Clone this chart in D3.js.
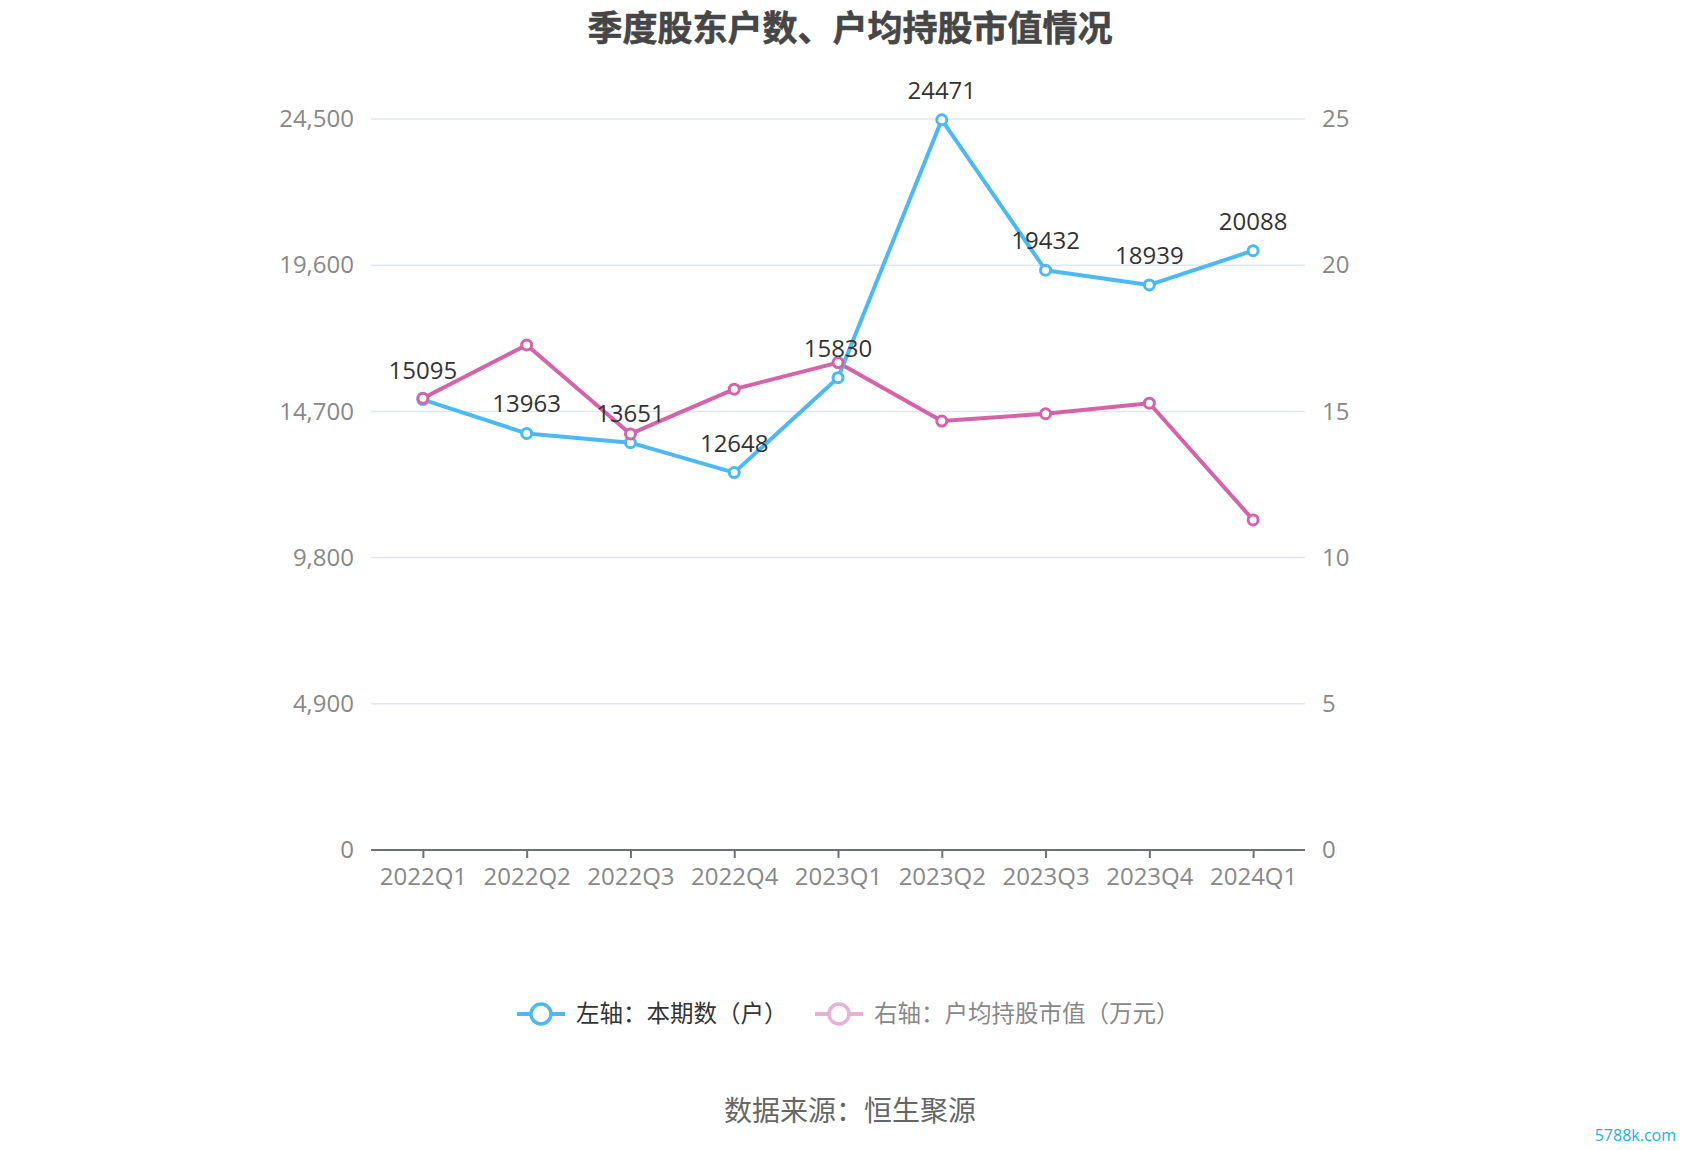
<!DOCTYPE html>
<html>
<head>
<meta charset="utf-8">
<script src="https://cdn.jsdelivr.net/npm/d3@7"></script>
<style>
  html, body { margin: 0; padding: 0; background: #fff; }
  svg { display: block; font-family: "Open Sans", "Noto Sans CJK SC", sans-serif; }
</style>
</head>
<body>
<svg id="chart" width="1700" height="1150"></svg>
<script>
const categories = ["2022Q1","2022Q2","2022Q3","2022Q4","2023Q1","2023Q2","2023Q3","2023Q4","2024Q1"];
const holders = [15095, 13963, 13651, 12648, 15830, 24471, 19432, 18939, 20088];
const avgValue = [15.45, 17.27, 14.23, 15.76, 16.67, 14.67, 14.92, 15.28, 11.29];
const leftTicks = [0, 4900, 9800, 14700, 19600, 24500];
const rightTicks = [0, 5, 10, 15, 20, 25];
const titleText = "季度股东户数、户均持股市值情况";
const legendLabels = ["左轴：本期数（户）", "右轴：户均持股市值（万元）"];
const sourceText = "数据来源：恒生聚源";
const watermark = "5788k.com";

const blue = "#4cb9f4", pink = "#d563a8";
const svg = d3.select("#chart");
const L = 371, R = 1305, T = 119, B = 850;

const x = d3.scalePoint().domain(categories).range([L, R]).padding(0.5);
const yL = d3.scaleLinear().domain([0, 24500]).range([B, T]);
const yR = d3.scaleLinear().domain([0, 25]).range([B, T]);

// title
svg.append("text").attr("x", 850).attr("y", 41).attr("text-anchor", "middle")
  .attr("font-family", "'Noto Sans CJK SC', sans-serif")
  .attr("font-size", 35).attr("font-weight", "bold").attr("fill", "#464646")
  .attr("stroke", "#464646").attr("stroke-width", 0.6).text(titleText);

// gridlines
svg.append("g").selectAll("line").data(leftTicks.filter(d => d > 0)).join("line")
  .attr("x1", L).attr("x2", R).attr("y1", d => yL(d)).attr("y2", d => yL(d))
  .attr("stroke", "#e0e6f1").attr("stroke-width", 1.5);

// left axis
const gl = svg.append("g").attr("transform", `translate(${L},0)`)
  .call(d3.axisLeft(yL).tickValues(leftTicks).tickFormat(d3.format(",")).tickSize(0).tickPadding(17));
gl.select(".domain").remove();
gl.selectAll("text").attr("font-size", 24).attr("fill", "#888").attr("font-family", "'Open Sans', sans-serif");

// right axis
const gr = svg.append("g").attr("transform", `translate(${R},0)`)
  .call(d3.axisRight(yR).tickValues(rightTicks).tickSize(0).tickPadding(17));
gr.select(".domain").remove();
gr.selectAll("text").attr("font-size", 24).attr("fill", "#888").attr("font-family", "'Open Sans', sans-serif");

// bottom axis
const gb = svg.append("g").attr("transform", `translate(0,${B})`)
  .call(d3.axisBottom(x).tickSize(8).tickSizeOuter(0));
gb.select(".domain").attr("stroke", "#6e7079").attr("stroke-width", 2).attr("d", `M${L},0H${R}`);
gb.selectAll(".tick line").attr("stroke", "#6e7079").attr("stroke-width", 2);
gb.selectAll("text").attr("font-size", 24).attr("fill", "#888").attr("y", 35).attr("dy", 0)
  .attr("font-family", "'Open Sans', sans-serif");

// lines
const lineL = d3.line().x((d, i) => x(categories[i])).y(d => yL(d));
const lineR = d3.line().x((d, i) => x(categories[i])).y(d => yR(d));
svg.append("path").datum(avgValue).attr("d", lineR).attr("fill", "none")
  .attr("stroke", pink).attr("stroke-width", 4).attr("stroke-linejoin", "round");
svg.append("path").datum(holders).attr("d", lineL).attr("fill", "none")
  .attr("stroke", blue).attr("stroke-width", 4).attr("stroke-linejoin", "round");

svg.append("g").selectAll("circle").data(holders).join("circle")
  .attr("cx", (d, i) => x(categories[i])).attr("cy", d => yL(d)).attr("r", 5)
  .attr("fill", "#fff").attr("stroke", blue).attr("stroke-width", 3);
svg.append("g").selectAll("circle").data(avgValue).join("circle")
  .attr("cx", (d, i) => x(categories[i])).attr("cy", d => yR(d)).attr("r", 5)
  .attr("fill", "#fff").attr("stroke", pink).attr("stroke-width", 3);

// labels
svg.append("g").selectAll("text").data(holders).join("text")
  .attr("x", (d, i) => x(categories[i])).attr("y", d => yL(d) - 21)
  .attr("text-anchor", "middle").attr("font-size", 24).attr("fill", "#333")
  .attr("font-family", "'Open Sans', sans-serif").text(d => d);

// legend
const leg = svg.append("g");
function legendItem(x0, color, label, textColor, opacity) {
  const g = leg.append("g").attr("opacity", opacity);
  g.append("line").attr("x1", x0).attr("x2", x0 + 48).attr("y1", 1014).attr("y2", 1014)
    .attr("stroke", color).attr("stroke-width", 4);
  g.append("circle").attr("cx", x0 + 24).attr("cy", 1014).attr("r", 10)
    .attr("fill", "#fff").attr("stroke", color).attr("stroke-width", 3.5);
  leg.append("text").attr("x", x0 + 59).attr("y", 1022).attr("font-size", 23.5)
    .attr("font-family", "'Noto Sans CJK SC', sans-serif")
    .attr("fill", textColor).text(label);
}
legendItem(517, blue, legendLabels[0], "#333", 1);
legendItem(815, pink, legendLabels[1], "#888", 0.5);

// source
svg.append("text").attr("x", 850).attr("y", 1121).attr("text-anchor", "middle")
  .attr("font-family", "'Noto Sans CJK SC', sans-serif")
  .attr("font-size", 28).attr("fill", "#666").text(sourceText);

// watermark
svg.append("text").attr("x", 1676).attr("y", 1141).attr("text-anchor", "end")
  .attr("font-size", 16).attr("fill", "#1ab0ef").attr("font-family", "'Open Sans', sans-serif")
  .text(watermark);
</script>
</body>
</html>
